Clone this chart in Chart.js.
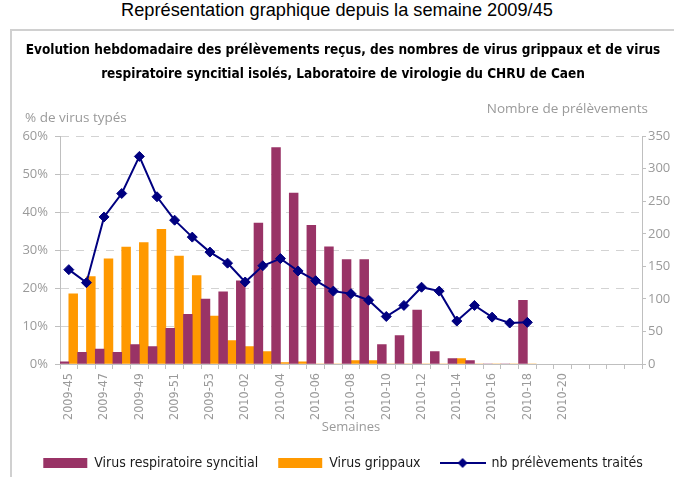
<!DOCTYPE html>
<html lang="fr">
<head>
<meta charset="UTF-8">
<title>Virus grippaux et VRS - CHRU de Caen</title>
<script src="https://cdn.jsdelivr.net/npm/chart.js@4/dist/chart.umd.min.js"></script>
<style>
  body { margin: 0; width: 674px; height: 477px; overflow: hidden; background: #fff; position: relative; }
  .page-title { position: absolute; left: 0; top: 0; width: 674px; line-height: 36px; text-align: center;
                font: 18.2px "Liberation Sans", Arial, sans-serif; color: #000; }
  .chart-box { position: absolute; left: 10px; top: 29px; width: 662px; height: 446px;
               border-left: 2px solid #d0d0d0; border-top: 2px solid #d0d0d0; }
</style>
</head>
<body>
<div class="page-title">Représentation graphique depuis la semaine 2009/45</div>
<div class="chart-box">
  <canvas id="virusChart" width="662" height="446"></canvas>
</div>

<script>
// semaines (2009-45 -> 2010-24)
const weeks = ['2009-45', '2009-46', '2009-47', '2009-48', '2009-49', '2009-50', '2009-51', '2009-52', '2009-53',
  '2010-01', '2010-02', '2010-03', '2010-04', '2010-05', '2010-06', '2010-07', '2010-08', '2010-09', '2010-10',
  '2010-11', '2010-12', '2010-13', '2010-14', '2010-15', '2010-16', '2010-17', '2010-18', '2010-19', '2010-20',
  '2010-21', '2010-22', '2010-23', '2010-24'];
const lastLabelled = 28; // no labels after 2010-20 on the original

// % de virus typés
const rsvPct = [0.6, 3.1, 3.9, 3.1, 5.1, 4.6, 9.4, 13.1, 17.1, 19.0, 21.9, 37.1, 57.0, 45.0, 36.5, 30.9,
  27.5, 27.5, 5.1, 7.5, 14.2, 3.3, 1.4, 0.9, 0, 0, 16.8];
const fluPct = [18.5, 23.0, 27.7, 30.8, 32.0, 35.5, 28.4, 23.3, 12.6, 6.2, 4.6, 3.3, 0.4, 0.6, 0, 0,
  0.9, 0.9, 0, 0, 0, 0, 1.4, 0, 0, 0, 0];

// nombre de prélèvements traités
const samples = [145, 125, 226, 262, 319, 257, 221, 195, 172, 155, 126, 151, 162, 143, 128, 112,
  108, 98, 73, 90, 118, 112, 66, 90, 72, 63, 64];

const pctMax = 60, pctStep = 10;
const countMax = 350, countStep = 50;

const PURPLE = '#993366';
const ORANGE = '#ff9900';
const NAVY = '#000080';
const textGrey = '#9a9a9a';
const axisGrey = '#bfbfbf';
const gridGrey = '#d3d3d3';
const NARROW = "'Liberation Sans Narrow', 'DejaVu Sans Condensed', sans-serif";

Chart.defaults.font.family = "'Open Sans', sans-serif";

// legend glyph for the line series: line with a diamond
function lineIcon() {
  const c = document.createElement('canvas');
  c.width = 46; c.height = 12;
  const g = c.getContext('2d');
  g.strokeStyle = NAVY; g.lineWidth = 2;
  g.beginPath(); g.moveTo(0, 6); g.lineTo(46, 6); g.stroke();
  g.fillStyle = NAVY;
  g.beginPath(); g.moveTo(23, 1); g.lineTo(28, 6); g.lineTo(23, 11); g.lineTo(18, 6); g.closePath(); g.fill();
  return c;
}
const icon = lineIcon();

// axis captions sit horizontally above the plot
const axisCaptions = {
  id: 'axisCaptions',
  afterDraw(chart) {
    const { ctx, chartArea } = chart;
    ctx.save();
    ctx.font = "13.5px 'Open Sans', sans-serif";
    ctx.fillStyle = textGrey;
    ctx.textBaseline = 'middle';
    ctx.textAlign = 'left';
    ctx.fillText('% de virus typés', chartArea.left - 35, chartArea.top - 18);
    ctx.textAlign = 'right';
    ctx.fillText('Nombre de prélèvements', chartArea.right + 6, chartArea.top - 27);
    ctx.restore();
  }
};

const ctx = document.getElementById('virusChart').getContext('2d');
new Chart(ctx, {
  type: 'bar',
  data: {
    labels: weeks,
    datasets: [{
      label: 'Virus respiratoire syncitial',
      data: rsvPct,
      backgroundColor: PURPLE,
      yAxisID: 'y',
      order: 1,
      categoryPercentage: 1,
      barPercentage: 1
    }, {
      label: 'Virus grippaux',
      data: fluPct,
      backgroundColor: ORANGE,
      yAxisID: 'y',
      order: 1,
      categoryPercentage: 1,
      barPercentage: 1
    }, {
      type: 'line',
      label: 'nb prélèvements traités',
      data: samples,
      yAxisID: 'y1',
      order: 0,
      borderColor: NAVY,
      backgroundColor: NAVY,
      borderWidth: 2,
      tension: 0,
      pointStyle: 'rectRot',
      pointRadius: 5,
      pointBorderWidth: 1,
      pointBackgroundColor: NAVY,
      pointBorderColor: NAVY
    }]
  },
  options: {
    responsive: false,
    animation: false,
    devicePixelRatio: 1,
    layout: { padding: { bottom: -3 } },
    scales: {
      x: {
        grid: { offset: true, drawOnChartArea: false, tickLength: 5, color: axisGrey },
        border: { color: axisGrey },
        ticks: {
          autoSkip: false,
          minRotation: 90,
          maxRotation: 90,
          padding: 4,
          color: textGrey,
          font: { family: NARROW, size: 12.5 },
          callback: (v, i) => (i % 2 === 0 && i <= lastLabelled) ? weeks[i] : ''
        },
        title: {
          display: true,
          text: 'Semaines',
          color: textGrey,
          font: { size: 13, lineHeight: 1 },
          padding: { top: 0, bottom: 2 }
        },
        afterFit(scale) { scale.height = 72; }
      },
      y: {
        position: 'left',
        min: 0,
        max: pctMax,
        ticks: {
          stepSize: pctStep,
          padding: 7,
          color: textGrey,
          font: { size: 13 },
          callback: v => v + '%'
        },
        grid: { color: gridGrey, tickColor: axisGrey, tickLength: 5 },
        border: { color: axisGrey, dash: [8, 7] },
        afterFit(scale) { scale.width = 48; }
      },
      y1: {
        position: 'right',
        min: 0,
        max: countMax,
        ticks: { stepSize: countStep, padding: 2, color: textGrey, font: { size: 13 } },
        grid: { drawOnChartArea: false, tickLength: 4, color: axisGrey },
        border: { color: axisGrey },
        afterFit(scale) { scale.width = 32; }
      }
    },
    plugins: {
      title: {
        display: true,
        text: ['Evolution hebdomadaire des prélèvements reçus, des nombres de virus grippaux et de virus',
               'respiratoire syncitial isolés, Laboratoire de virologie du CHRU de Caen'],
        color: '#000',
        font: { family: NARROW, size: 13.5, weight: 'bold', lineHeight: 1.75 },
        padding: { top: 8, bottom: 50 }
      },
      legend: {
        position: 'bottom',
        labels: {
          usePointStyle: true,
          pointStyleWidth: 44,
          boxHeight: 10,
          padding: 20,
          color: '#1a1a1a',
          font: { family: NARROW, size: 14 },
          generateLabels(chart) {
            const items = Chart.defaults.plugins.legend.labels.generateLabels(chart);
            items.forEach(it => {
              const ds = chart.data.datasets[it.datasetIndex];
              it.pointStyle = ds.type === 'line' ? icon : 'rect';
              it.lineWidth = 0;
            });
            return items;
          },
          sort: (a, b) => a.datasetIndex - b.datasetIndex
        }
      },
      tooltip: { enabled: false }
    }
  },
  plugins: [axisCaptions]
});
</script>
</body>
</html>
